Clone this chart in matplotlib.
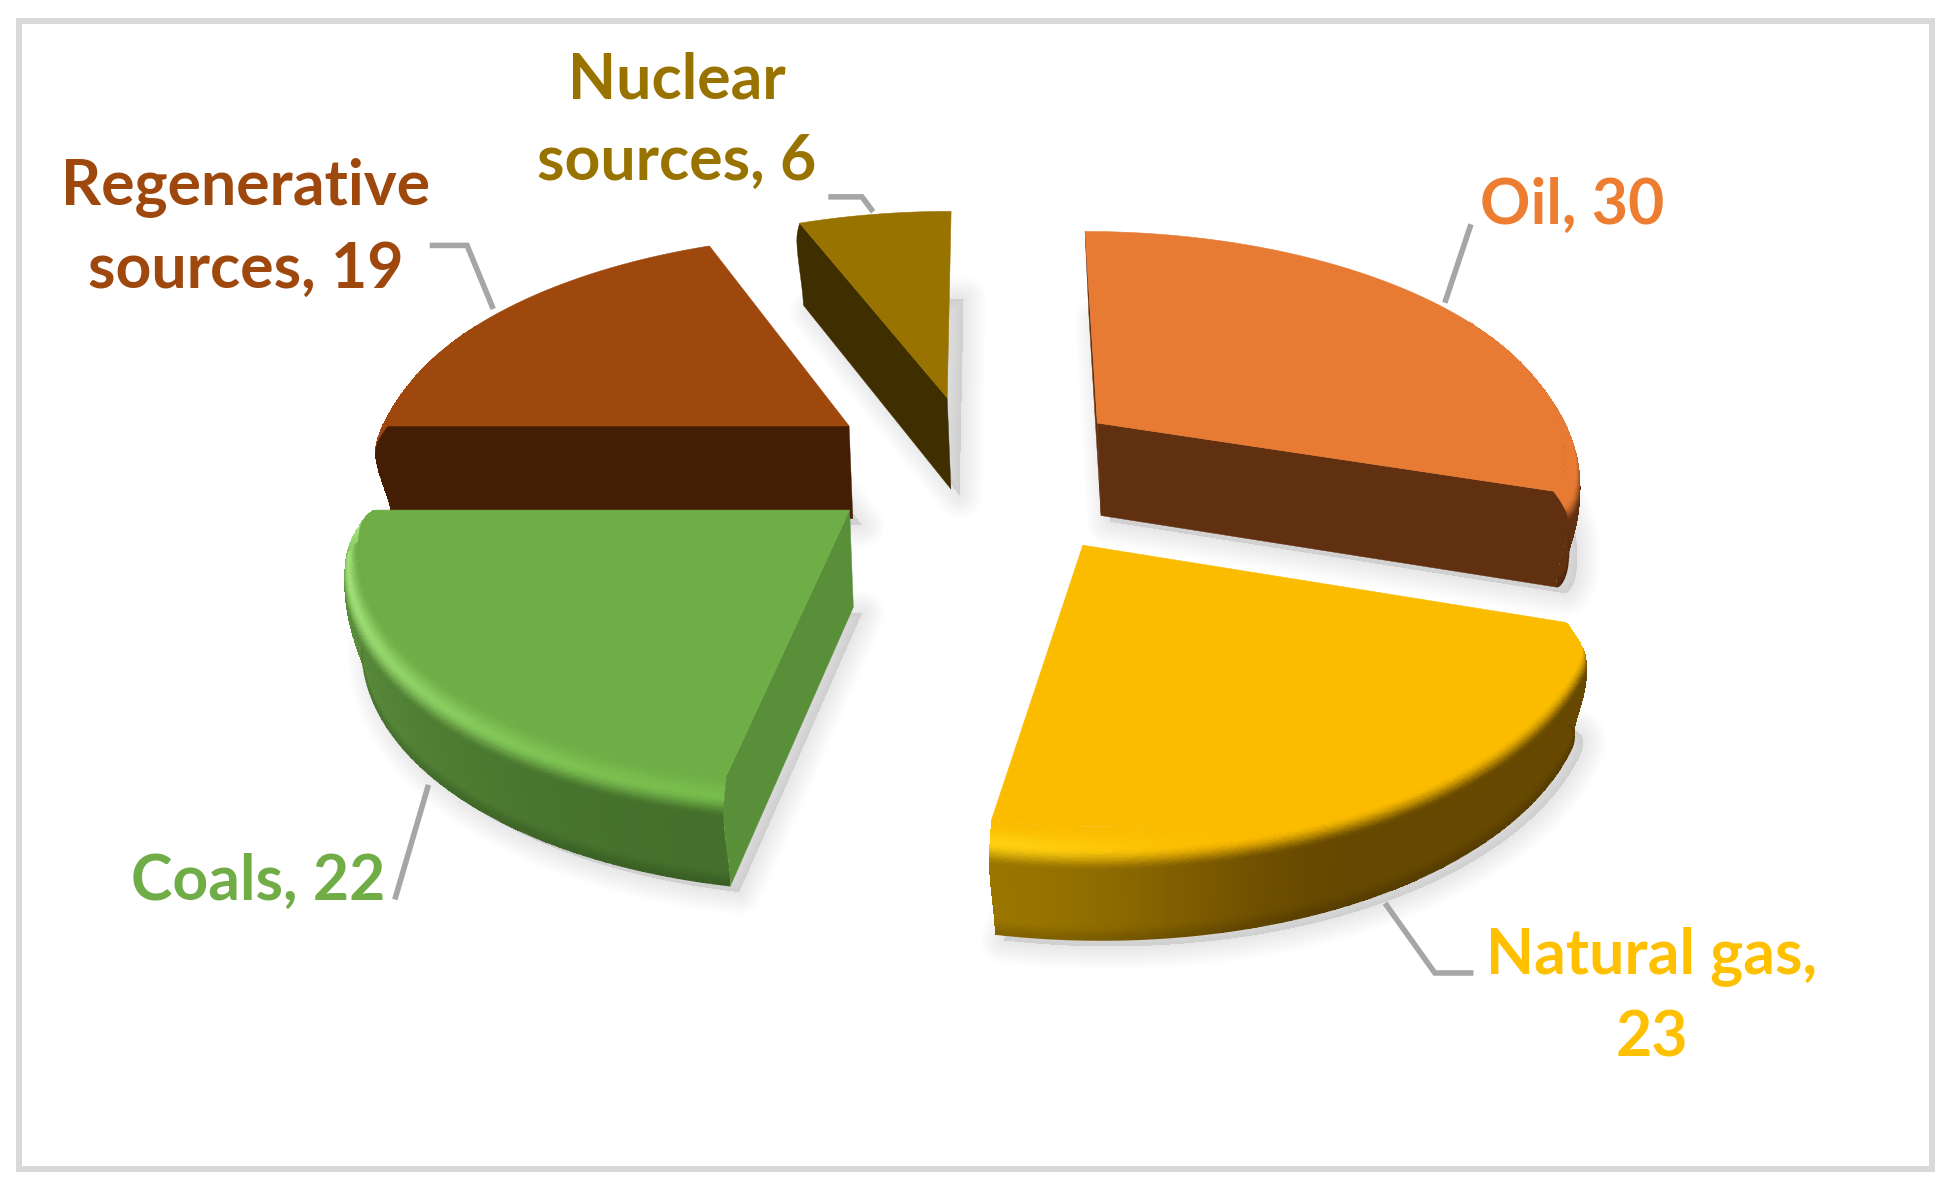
import numpy as np
import matplotlib
matplotlib.use("Agg")
import matplotlib.pyplot as plt
from matplotlib.collections import LineCollection
from matplotlib.colors import to_rgb
from matplotlib.patches import Polygon, Rectangle

categories = ["Oil", "Natural gas", "Coals", "Regenerative\nsources", "Nuclear\nsources"]
values = [30, 23, 22, 19, 6]
label_seps = [", ", ",\n", ", ", ", ", ", "]
label_colors = ["#ED7D31", "#FFC000", "#70AD47", "#9E480E", "#997300"]
label_pos = [(1262, 165), (1326, 800), (207, 708), (197, 183), (543, 97)]
leaders = [[(1181, 180), (1160, 243)],
           [(1112, 725), (1152, 781), (1183, 781)],
           [(317, 722), (344, 630)],
           [(345, 197), (375, 197), (396, 248)],
           [(665, 158), (692, 158), (701, 170)]]

top_colors = ["#E77B33", "#FBBC00", "#6FAD47", "#9E480E", "#997300"]
wall_start = ["#613010", "#664800", "#44702B", "#431D04", "#3E2E00"]
wall_end = ["#613010", "#9A7500", "#5C8F3D", "#431D04", "#3E2E00"]
hi_start = ["#E77B33", "#FBBC00", "#A3E27B", "#9E480E", "#997300"]
hi_end = ["#E77B33", "#FFD010", "#78BE4C", "#B5561A", "#997300"]
side_colors = ["#613010", "#664800", "#5A8F3A", "#431D04", "#3E2E00"]
grad_from = [0.55, 0.55, 0.0, 0.55, 0.55]
round_depth = [0.012, 0.025, 0.025, 0.005, 0.0]

# Projection of the exploded pie (units: the 1568 wide view of the picture)
XC, YC, A, B, P = 790.0, 450.0, 400.0, 200.0, 0.13
CX, CY, EXPLODE = -0.03, 0.39, 0.34
nudge_x = [0.0, 0.057, 0.015, 0.02, 0.013]
nudge_y = [0.005, -0.035, 0.035, 0.0, -0.01]
H, DX = 80.0, 3.0
BULGE, ROUND_ANG = 0.03, 5.0
TB = 0.30


def project(px, py, z=0.0):
    g = 1.0 / (1.0 + P * py)
    return XC + A * px * g + DX * z, YC - B * py * g + H * z * g


def smooth(x):
    x = np.clip(x, 0, 1)
    return x * x * (3 - 2 * x)


def bulge(t):
    return np.sin(np.clip(t / TB, 0, 1) * np.pi / 2) * (1 - smooth((t - TB) / (1 - TB))) * BULGE


fig = plt.figure(figsize=(19.53, 11.91), dpi=100)
ax = fig.add_axes([0, 0, 1, 1])
ax.set_xlim(0, 1568)
ax.set_ylim(956, 0)
ax.axis("off")
fig.patch.set_facecolor("white")

ax.add_patch(Rectangle((15.3, 17), 1536, 921, fc="white", ec="#D9D9D9", lw=4.3, zorder=0))

total = sum(values)
edges = 90 - np.concatenate([[0], np.cumsum(values)]) / total * 360.0


def rho(deg, d1, d2, depth):
    """Rounded outer corners where a slice ends at the sides of the pie."""
    out = np.ones_like(deg)
    for end in (d1, d2):
        if abs(np.cos(np.radians(end))) > 0.9:
            d = np.clip(np.abs(deg - end) / ROUND_ANG, 0, 1)
            out -= depth * (1 - np.sqrt(1 - (1 - d) ** 2))
    return out


slices = []
for i in range(len(values)):
    d1, d2 = edges[i], edges[i + 1]
    mid = np.radians((d1 + d2) / 2)
    ox = CX + EXPLODE * np.cos(mid) + nudge_x[i]
    oy = CY + EXPLODE * np.sin(mid) + nudge_y[i]
    slices.append((i, d1, d2, ox, oy))

# soft shadows
for i, d1, d2, ox, oy in slices:
    deg = np.linspace(d1, d2, 120)
    th = np.radians(deg)
    r = rho(deg, d1, d2, round_depth[i])
    bx, by = project(ox + r * np.cos(th), oy + r * np.sin(th), 1.0)
    ax_, ay_ = project(ox, oy, 1.0)
    pts = np.column_stack([np.r_[ax_, bx], np.r_[ay_, by]]) + [7, 5]
    for lw in np.linspace(34, 1, 24):
        ax.add_patch(Polygon(pts, closed=True, fc="#000000", ec="#000000", lw=lw, alpha=0.0037,
                             joinstyle="round", zorder=1))

order = [4, 0, 3, 2, 1]
for idx in order:
    i, d1, d2, ox, oy = slices[idx]
    zb = 10 + order.index(idx) * 5
    deg = np.linspace(d1, d2, 260)
    th = np.radians(deg)
    rr = rho(deg, d1, d2, round_depth[i])
    frac = (d1 - deg) / (d1 - d2)
    top = np.array(to_rgb(top_colors[i]))
    wa, wb = np.array(to_rgb(wall_start[i])), np.array(to_rgb(wall_end[i]))
    ha, hb = np.array(to_rgb(hi_start[i])), np.array(to_rgb(hi_end[i]))
    g0 = grad_from[i]
    wall_col = wa[None] + (wb - wa)[None] * smooth((frac - g0) / (1 - g0))[:, None]
    hi_col = ha[None] + (hb - ha)[None] * smooth(1 - frac)[:, None] if i == 2 else \
        ha[None] + (hb - ha)[None] * smooth((frac - 0.7) / 0.3)[:, None]
    vis = smooth((-np.sin(th) + 0.08) / 0.35)
    near = np.where(np.sin(th) < 0.5)[0]  # far part of the rim stays hidden behind the top

    def mesh(ts, colour_fn, z):
        T, R = np.meshgrid(ts, near)
        rad = rr[R] * (1 + bulge(T))
        X, Y = project(ox + rad * np.cos(th[R]), oy + rad * np.sin(th[R]), T)
        tc = 0.5 * (T[:-1, :-1] + T[1:, 1:])
        rc = R[:-1, :-1]
        ax.pcolormesh(X, Y, colour_fn(tc, rc), shading="flat", antialiased=False,
                      edgecolors="none", linewidth=0, zorder=z)

    def wall_fn(tc, rc):
        base = wall_col[rc]
        shade = 1 - 0.15 * smooth((tc - 0.85) / 0.15)[..., None]
        return np.dstack([base * shade, np.ones(tc.shape)])

    def bevel_fn(tc, rc):
        u = tc / TB
        v = vis[rc][..., None]
        a = smooth(u / 0.5)[..., None]
        b = smooth((u - 0.45) / 0.55)[..., None]
        col = top + (hi_col[rc] - top) * a
        col = col + (wall_col[rc] - col) * b * v
        return np.dstack([col, np.ones(tc.shape)])

    if near.size > 2:
        mesh(np.linspace(TB, 1, 30), wall_fn, zb)
        # smooth lower rim, kept under the bevel so it cannot show over the far side
        bx, by = project(ox + rr[near] * np.cos(th[near]), oy + rr[near] * np.sin(th[near]), 1.0)
        segs = np.stack([np.column_stack([bx[:-1], by[:-1]]), np.column_stack([bx[1:], by[1:]])], axis=1)
        ax.add_collection(LineCollection(segs, colors=wall_col[near][:-1] * 0.85, linewidths=0.9, zorder=zb))
        mesh(np.linspace(0, TB, 24), bevel_fn, zb + 1)

    # straight walls on the cut sides that face the viewer
    for end, rend, sign in ((d1, rr[0], -1), (d2, rr[-1], 1)):
        t = np.radians(end)
        prof = np.linspace(0, 1, 16)
        rad = rend * (1 + bulge(prof))
        px, py = project(ox + rad * np.cos(t), oy + rad * np.sin(t), prof)
        a0 = project(ox, oy, 0)
        a1 = project(ox, oy, 1)
        qx = np.r_[a0[0], px, a1[0]]
        qy = np.r_[a0[1], py, a1[1]]
        area = np.sum(qx * np.roll(qy, -1) - np.roll(qx, -1) * qy)
        if (sign > 0 and area > 2500) or (sign < 0 and area < 2500):
            ax.add_patch(Polygon(np.column_stack([qx, qy]), closed=True, fc=side_colors[i],
                                 ec=side_colors[i], lw=0.3, zorder=zb + 2))

    fx, fy = project(ox + rr * np.cos(th), oy + rr * np.sin(th), 0)
    ax0, ay0 = project(ox, oy, 0)
    ax.add_patch(Polygon(np.column_stack([np.r_[ax0, fx], np.r_[ay0, fy]]), closed=True,
                         fc=top_colors[i], ec=top_colors[i], lw=0.4, zorder=zb + 3))

for pts in leaders:
    xs, ys = zip(*pts)
    ax.plot(xs, ys, color="#A6A6A6", lw=4.0, solid_joinstyle="miter", solid_capstyle="butt", zorder=50)

for c, v, s, col, (x, y) in zip(categories, values, label_seps, label_colors, label_pos):
    ax.text(x, y, f"{c}{s}{v}", color=col, ha="center", va="center", family="Lato",
            fontweight="bold", fontsize=45, linespacing=1.5, zorder=60)

fig.savefig("out.png", dpi=100, facecolor="white")
